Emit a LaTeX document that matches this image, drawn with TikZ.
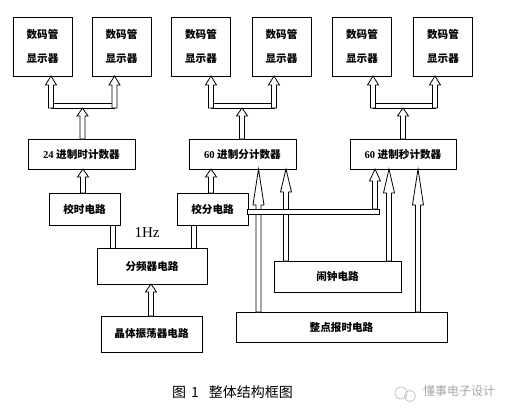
\documentclass[tikz,border=0pt]{standalone}
\usepackage{fontspec}
\newfontfamily\cjk{Noto Sans CJK SC}
\newfontfamily\lat{Liberation Serif}
\usetikzlibrary{calc}
\tikzset{
  box/.style={draw, line width=0.8pt, inner sep=0pt, outer sep=0pt, fill=white,
    font=\cjk\bfseries\fontsize{10.6}{12}\selectfont, align=center},
  disp/.style={box, minimum width=59pt, minimum height=59pt,
    font=\cjk\bfseries\fontsize{10.6}{24}\selectfont},
  busbox/.style={draw, line width=0.8pt, fill=white, inner sep=0pt, outer sep=0pt, minimum height=5pt},
  blkline/.style={draw, line width=0.8pt, fill=white, line join=miter},
  thinline/.style={draw, line width=0.8pt},
}
% #1 x of arrow, #2 bottom anchor, #3 tip anchor, #4 head length
\newcommand\blkarrow[4]{\draw[blkline] let \p1=(#2), \p2=(#3) in
  (#1pt-2.5pt,\y1) -- (#1pt-2.5pt,\y2-#4pt) -- (#1pt-5.5pt,\y2-#4pt) -- (#1pt,\y2)
  -- (#1pt+5.5pt,\y2-#4pt) -- (#1pt+2.5pt,\y2-#4pt) -- (#1pt+2.5pt,\y1) -- cycle;}
\newcommand\twoline[3]{\draw[thinline] let \p1=(#2), \p2=(#3) in (#1pt,\y1) -- (#1pt,\y2);}
\begin{document}
\begin{tikzpicture}[x=1pt,y=-1pt]
\useasboundingbox (0,0) rectangle (512,412);
\fill[white] (0,0) rectangle (512,412);

% display boxes
\node[disp] (d1) at (42.5,46.5) {数码管\\显示器};
\node[disp] (d2) at (121.5,46.5) {数码管\\显示器};
\node[disp] (d3) at (201,46.5) {数码管\\显示器};
\node[disp] (d4) at (281.5,46.5) {数码管\\显示器};
\node[disp] (d5) at (362,46.5) {数码管\\显示器};
\node[disp] (d6) at (443,46.5) {数码管\\显示器};

% counters
\node[box, minimum width=107pt, minimum height=30pt] (c24) at (81.5,154) {{\lat\bfseries 24} 进制时计数器};
\node[box, minimum width=107pt, minimum height=30pt] (c60m) at (242.5,154) {{\lat\bfseries 60} 进制分计数器};
\node[box, minimum width=106pt, minimum height=30pt] (c60s) at (403,154) {{\lat\bfseries 60} 进制秒计数器};

% other blocks
\node[box, minimum width=71pt, minimum height=32pt] (jiaoshi) at (84.5,209) {校时电路};
\node[box, minimum width=71pt, minimum height=32pt] (jiaofen) at (212.5,209) {校分电路};
\node[box, minimum width=110pt, minimum height=36pt] (fenpin) at (152,266) {分频器电路};
\node[box, minimum width=101pt, minimum height=36pt] (jingti) at (151.5,334) {晶体振荡器电路};
\node[box, minimum width=127pt, minimum height=31pt] (naozhong) at (337.5,276.5) {闹钟电路};
\node[box, minimum width=211pt, minimum height=30pt] (zhengdian) at (341.5,327) {整点报时电路};

% buses
\node[busbox, minimum width=63.5pt] (bus1) at (82.75,105.5) {};
\node[busbox, minimum width=63pt] (bus2) at (242.5,105.5) {};
\node[busbox, minimum width=62pt] (bus3) at (404,105.5) {};

% arrows to displays
\blkarrow{51}{bus1.south}{d1.south}{9}
\blkarrow{114.5}{bus1.south}{d2.south}{9}
\blkarrow{82.5}{c24.north}{bus1.south}{8}
\blkarrow{211}{bus2.south}{d3.south}{9}
\blkarrow{274}{bus2.south}{d4.south}{9}
\blkarrow{242}{c60m.north}{bus2.south}{8}
\blkarrow{373}{bus3.south}{d5.south}{9}
\blkarrow{435}{bus3.south}{d6.south}{9}
\blkarrow{403}{c60s.north}{bus3.south}{8}

% arrows into counters
\blkarrow{83}{jiaoshi.north}{c24.south}{8}
\blkarrow{211}{jiaofen.north}{c60m.south}{8}
\blkarrow{151}{jingti.north}{fenpin.south}{8}

% double lines from divider
\twoline{110}{fenpin.north}{jiaoshi.south}
\twoline{115}{fenpin.north}{jiaoshi.south}
\twoline{191}{fenpin.north}{jiaofen.south}
\twoline{196}{fenpin.north}{jiaofen.south}
\node[font=\lat\fontsize{15}{15}\selectfont] (hz) at (147,233) {1Hz};

% long arrows
\blkarrow{258.5}{zhengdian.north}{c60m.south}{36}
\blkarrow{286}{naozhong.north}{c60m.south}{23}
\blkarrow{389}{naozhong.north}{c60s.south}{24}
\blkarrow{418}{zhengdian.north}{c60s.south}{36}

% bar from jiaofen to seconds counter
\node[busbox, minimum width=132pt] (bar1) at (313,211.5) {};
\blkarrow{375}{bar1.north}{c60s.south}{12}

% caption
\node[font=\cjk\fontsize{14}{14}\selectfont] (cap) at (232.5,392) {图\hspace{5pt}1\hspace{10pt}整体结构框图};

% watermark
\draw[gray!55, line width=0.6pt] (401,393) circle (6);
\draw[gray!55, line width=0.6pt] (410,396) circle (5.5);
\node[font=\cjk\fontsize{12}{12}\selectfont, text=gray!70] (wm) at (459,391) {懂事电子设计};
\end{tikzpicture}
\end{document}
